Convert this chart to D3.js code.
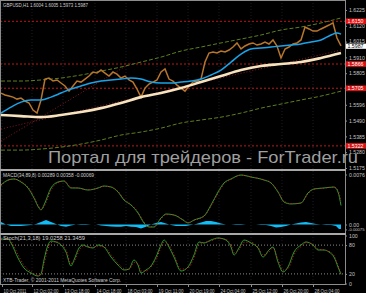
<!DOCTYPE html>
<html>
<head>
<meta charset="utf-8">
<script src="https://cdn.jsdelivr.net/npm/d3@7"></script>
<style>
  html, body { margin: 0; padding: 0; background: #000; }
  svg { display: block; }
  text { font-family: "Liberation Sans", Arial, sans-serif; }
</style>
</head>
<body>
<div id="chart"></div>
<script>
// ---- data ----
var header = "GBPUSD,H1  1.6004 1.6005 1.5973 1.5987";
var macdTitle = "MACD(34,89,8) 0.00289 0.00358 -0.00069";
var stochTitle = "Stoch(21,3,18) 19.0258 21.3459";
var copyright = "XTB-Trader, \u00a9 2001-2011 MetaQuotes Software Corp.";
var watermark = "Портал для трейдеров - ForTrader.ru";

// H1 bars, 0..340
var timeTickBars = [1, 31, 62, 94, 125, 156, 187, 218, 250, 281, 312];
var timeLabels = ["10 Oct 2011", "12 Oct 02:00", "13 Oct 18:00", "14 Oct 18:00", "18 Oct 03:00",
  "19 Oct 11:00", "20 Oct 19:00", "24 Oct 04:00", "25 Oct 12:00", "26 Oct 20:00", "28 Oct 04:00"];

var priceTicks = [1.6225, 1.6120, 1.6015, 1.5910, 1.5805, 1.5595, 1.5490, 1.5385, 1.5280, 1.5175];
var priceTickLabels = ["1.6225", "1.6120", "1.6015", "1.5910", "1.5805", "1.5596", "1.5490", "1.5385", "1.5280", "1.5175"];

// close, every 4 bars
var priceBars = d3.range(0, 341, 4);
var price = [1.5673,1.5660,1.5653,1.5646,1.5633,1.5640,1.5620,1.5607,1.5560,1.5540,
  1.5627,1.5766,1.5773,1.5753,1.5760,1.5740,1.5720,1.5686,1.5720,1.5753,
  1.5746,1.5766,1.5786,1.5813,1.5806,1.5826,1.5806,1.5786,1.5813,1.5799,
  1.5773,1.5786,1.5760,1.5746,1.5700,1.5646,1.5706,1.5733,1.5746,1.5760,
  1.5813,1.5833,1.5766,1.5753,1.5726,1.5706,1.5686,1.5720,1.5746,1.5753,
  1.5766,1.5879,1.5939,1.5946,1.5939,1.5952,1.5946,1.5959,1.5979,1.6006,
  1.5966,1.5986,1.5999,1.6006,1.5992,1.5999,1.6012,1.5999,1.6026,1.5986,
  1.5906,1.5966,1.5979,1.5999,1.6006,1.6026,1.6112,1.6099,1.6085,1.6085,
  1.6099,1.6112,1.6125,1.6139,1.6039,1.5987];
var lastPrice = 1.5987;

var fastBars = [0,10,20,30,40,50,60,70,80,90,100,110,120,130,140,150,160,170,180,190,200,210,220,230,240,250,260,270,280,290,300,310,320,330,336,340];
var fastMA = [1.5540,1.5580,1.5613,1.5627,1.5627,1.5646,1.5673,1.5700,1.5720,1.5740,1.5753,1.5760,1.5766,1.5773,1.5766,1.5746,1.5740,1.5740,
  1.5746,1.5753,1.5766,1.5793,1.5826,1.5879,1.5932,1.5966,1.5972,1.5979,1.5986,1.5992,1.5999,1.6012,1.6026,1.6059,1.6072,1.6065];

var slowBars = [0,20,40,60,80,100,120,140,160,180,200,220,240,260,280,300,320,340];
var slowMA = [1.5527,1.5520,1.5513,1.5527,1.5547,1.5573,1.5607,1.5646,1.5673,1.5706,1.5746,1.5786,1.5826,1.5853,1.5866,1.5879,1.5906,1.5939];
var envUpper = [1.5753,1.5753,1.5760,1.5773,1.5793,1.5819,1.5846,1.5879,1.5912,1.5952,1.5979,1.6006,1.6032,1.6059,1.6092,1.6112,1.6139,1.6172];
var envLower = [1.5294,1.5294,1.5301,1.5314,1.5334,1.5361,1.5394,1.5414,1.5440,1.5474,1.5494,1.5513,1.5540,1.5573,1.5600,1.5627,1.5653,1.5686];

var levels = [1.6150, 1.5866, 1.5705, 1.5322];
var trendA = [[0, 1.5434], [340, 1.5959]];
var trendB = [[0, 1.5354], [130, 1.5873]];

var macdBars = [0,7,13,20,27,33,38,40,43,50,57,63,70,77,87,97,103,110,117,123,130,137,143,148,153,160,165,173,182,187,193,203,210,217,223,230,240,250,263,270,277,283,290,300,307,313,323,333,337,340];
var macdMain = [.00600,.00676,.00692,.00646,.00555,.00403,.00251,.00220,.00296,.00555,.00646,.00661,.00555,.00555,.00524,.00555,.00585,.00570,.00494,.00372,
  .00296,.00175,.00023,-.00038,-.00038,.00099,.00160,.00144,.00068,.00023,.00068,.00129,.00296,.00494,.00631,.00692,.00752,.00722,.00676,.00631,
  .00494,.00342,.00312,.00327,.00479,.00540,.00555,.00570,.00494,.00289];
var macdSignal = [.00590,.00670,.00690,.00655,.00570,.00420,.00270,.00230,.00270,.00520,.00635,.00660,.00565,.00555,.00527,.00552,.00580,.00572,.00505,.00385,
  .00305,.00190,.00040,-.00030,-.00035,.00085,.00150,.00146,.00075,.00030,.00065,.00122,.00280,.00470,.00615,.00685,.00750,.00725,.00680,.00637,
  .00505,.00355,.00318,.00325,.00465,.00535,.00553,.00568,.00520,.00358];
var histBars = [0,5,10,15,20,25,30,35,40,45,50,55,60,65,70,75,80,85,90,95,100,105,110,115,120,125,130,135,140,145,150,155,160,165,170,175,180,185,
  190,195,200,205,210,215,220,225,230,235,240,245,250,255,260,265,270,275,280,285,290,295,300,305,310,315,320,325,330,335,338,340];
var macdHist = [.00038,0,-.00023,-.00023,-.00023,-.00015,-.00008,.00008,.00038,.00068,.00038,.00008,-.00023,-.00033,-.00015,0,-.00008,-.00008,0,0,
  -.00015,-.00023,-.0003,-.00033,-.00033,-.00023,-.00033,-.00038,-.00061,-.00033,0,.00023,.00038,.00015,-.00008,-.00023,-.00023,-.00023,
  -.00008,.00008,.0003,.00053,.00053,.00038,.00015,0,0,-.00008,-.00008,0,0,0,-.00008,-.00008,-.00023,-.00046,-.00038,-.00023,0,.00015,
  .0003,.00038,.00023,.00008,0,-.00008,-.00008,-.00023,-.00068,-.00069];
var macdTicks = [0.0076, 0, -0.00075];
var macdTickLabels = ["0.0076", "0.00", "-0.00075"];

var stochBars = [0,7,10,17,23,30,37,40,43,47,50,55,60,65,70,73,78,82,87,92,97,103,110,117,123,128,133,137,140,145,150,155,160,163,168,173,180,
  187,193,198,203,210,217,225,230,233,238,243,250,257,262,268,272,277,282,287,293,300,305,312,317,323,328,333,337,340];
var stochMain = [92.7,92.7,84.4,53.1,32.3,21.9,15.6,19.8,49.0,80.2,88.5,86.5,80.2,65.6,36.5,49.0,74.0,80.2,76.0,74.0,80.2,76.0,55.2,38.5,28.1,
  30.2,49.0,38.5,21.9,28.1,36.5,55.2,80.2,90.6,76.0,55.2,26.0,34.4,59.4,86.5,84.4,90.6,94.8,90.6,76.0,59.4,74.0,90.6,84.4,74.0,55.2,69.8,
  76.0,44.8,24.0,34.4,65.6,80.2,86.5,80.2,69.8,69.8,65.6,55.2,34.4,19.0];
var stochSignal = [92,93,88,60,38,25,17,17,40,72,85,87,82,70,42,45,68,78,77,75,78,77,60,42,31,29,44,41,26,26,34,50,75,86,80,60,30,32,54,80,
  85,89,94,92,80,64,70,86,86,76,59,66,74,50,28,31,60,77,85,82,72,70,67,58,38,21.3];
var stochTicks = [100, 80, 20, 0];

// ---- chart ----
var w = 366, h = 293, plotRight = 345;
var axisFont = 5.2;

var svg = d3.select("#chart").append("svg").attr("width", w).attr("height", h);
svg.append("rect").attr("width", w).attr("height", h).attr("fill", "#000");

var x = d3.scaleLinear().domain([0, 340]).range([1, 341]);
var yP = d3.scaleLinear().domain([1.5175, 1.6225]).range([168, 10]);
var yM = d3.scaleLinear().domain([0, 0.0076]).range([224.5, 174.5]);
var yS = d3.scaleLinear().domain([0, 100]).range([283.5, 235.5]);

var defs = svg.append("defs");
[["clipMain", 0, 169], ["clipMacd", 171, 62], ["clipStoch", 235, 49]].forEach(function(c) {
  defs.append("clipPath").attr("id", c[0]).append("rect")
    .attr("x", 0).attr("y", c[1]).attr("width", plotRight).attr("height", c[2]);
});

// faint vertical grid
svg.append("g").selectAll("line").data(timeTickBars).enter().append("line")
  .attr("x1", function(d) { return x(d); }).attr("x2", function(d) { return x(d); })
  .attr("y1", 0).attr("y2", 284)
  .attr("stroke", "#1a1a24").attr("stroke-dasharray", "1,2");

function pts(bars, vals) { return d3.zip(bars, vals); }
function lineFor(ys, curve) {
  return d3.line().x(function(d) { return x(d[0]); }).y(function(d) { return ys(d[1]); })
    .curve(curve || d3.curveLinear);
}

// main panel
var gMain = svg.append("g").attr("clip-path", "url(#clipMain)");

gMain.selectAll(".lvl").data(levels).enter().append("line")
  .attr("x1", 0).attr("x2", plotRight)
  .attr("y1", function(d) { return yP(d); }).attr("y2", function(d) { return yP(d); })
  .attr("stroke", "#c01818").attr("stroke-dasharray", "2,2");

[trendA, trendB].forEach(function(t) {
  gMain.append("path").attr("d", lineFor(yP)(t))
    .attr("fill", "none").attr("stroke", "#8a1626").attr("stroke-dasharray", "1,2");
});

[envUpper, envLower].forEach(function(v) {
  gMain.append("path").attr("d", lineFor(yP, d3.curveMonotoneX)(pts(slowBars, v)))
    .attr("fill", "none").attr("stroke", "#5d7f1e").attr("stroke-dasharray", "4,2");
});

gMain.append("path").attr("d", lineFor(yP)(pts(priceBars, price)))
  .attr("fill", "none").attr("stroke", "#b8762c").attr("stroke-width", 1.5);

gMain.append("path").attr("d", lineFor(yP, d3.curveMonotoneX)(pts(slowBars, slowMA)))
  .attr("fill", "none").attr("stroke", "#f7e3bd").attr("stroke-width", 2.6);

gMain.append("path").attr("d", lineFor(yP, d3.curveMonotoneX)(pts(fastBars, fastMA)))
  .attr("fill", "none").attr("stroke", "#1aa3e8").attr("stroke-width", 1.5);

// macd panel
var gMacd = svg.append("g").attr("clip-path", "url(#clipMacd)");
gMacd.append("path")
  .attr("d", d3.area().x(function(d) { return x(d[0]); }).y0(yM(0)).y1(function(d) { return yM(d[1]); })(pts(histBars, macdHist)))
  .attr("fill", "#12bdf5");
gMacd.append("path").attr("d", lineFor(yM, d3.curveMonotoneX)(pts(macdBars, macdMain)))
  .attr("fill", "none").attr("stroke", "#2c9c2c").attr("stroke-width", 1);
gMacd.append("path").attr("d", lineFor(yM, d3.curveMonotoneX)(pts(macdBars, macdSignal)))
  .attr("fill", "none").attr("stroke", "#d42020").attr("stroke-width", 1).attr("stroke-dasharray", "1,2");

// stoch panel
var gSt = svg.append("g").attr("clip-path", "url(#clipStoch)");
gSt.selectAll(".lv").data([80, 20]).enter().append("line")
  .attr("x1", 0).attr("x2", plotRight)
  .attr("y1", function(d) { return yS(d); }).attr("y2", function(d) { return yS(d); })
  .attr("stroke", "#8a8a8a").attr("stroke-dasharray", "1,2");
gSt.append("path").attr("d", lineFor(yS, d3.curveMonotoneX)(pts(stochBars, stochMain)))
  .attr("fill", "none").attr("stroke", "#2c9c2c").attr("stroke-width", 1);
gSt.append("path").attr("d", lineFor(yS, d3.curveMonotoneX)(pts(stochBars, stochSignal)))
  .attr("fill", "none").attr("stroke", "#d42020").attr("stroke-width", 1).attr("stroke-dasharray", "1,2");

// frames and separators
svg.append("rect").attr("x", 0.5).attr("y", 0.5).attr("width", plotRight).attr("height", 284)
  .attr("fill", "none").attr("stroke", "#8c8c8c");
svg.append("rect").attr("x", 0).attr("y", 169).attr("width", plotRight + 1).attr("height", 2).attr("fill", "#a8a8a8");
svg.append("rect").attr("x", 0).attr("y", 233).attr("width", plotRight + 1).attr("height", 2).attr("fill", "#a8a8a8");

// axes
function styleAxis(g) {
  g.select(".domain").remove();
  g.selectAll("line").attr("stroke", "#8c8c8c");
  g.selectAll("text").attr("fill", "#c4c4c4").attr("font-size", axisFont)
    .attr("font-family", "Liberation Sans, Arial, sans-serif");
}

var pAxis = svg.append("g").attr("transform", "translate(" + plotRight + ",0)")
  .call(d3.axisRight(yP).tickValues(priceTicks).tickFormat(function(d, i) { return priceTickLabels[i]; }).tickSize(2).tickPadding(2))
  .call(styleAxis);
// 1.6015 sits just above the current-price tag, lift it a touch
pAxis.selectAll("text").filter(function(d) { return d === 1.6015; }).attr("dy", "0.1em");

svg.append("g").attr("transform", "translate(" + plotRight + ",0)")
  .call(d3.axisRight(yM).tickValues(macdTicks).tickFormat(function(d, i) { return macdTickLabels[i]; }).tickSize(2).tickPadding(2))
  .call(styleAxis)
  .selectAll("text").filter(function(d) { return d < 0; })
  .attr("font-size", 4.2).attr("x", 3);

svg.append("g").attr("transform", "translate(" + plotRight + ",0)")
  .call(d3.axisRight(yS).tickValues(stochTicks).tickFormat(d3.format("d")).tickSize(2).tickPadding(2))
  .call(styleAxis);

var xAxis = svg.append("g").attr("transform", "translate(0,284)")
  .call(d3.axisBottom(x).tickValues(timeTickBars).tickFormat(function(d, i) { return timeLabels[i]; }).tickSize(3).tickPadding(1))
  .call(styleAxis);
xAxis.selectAll("text").attr("text-anchor", "start").attr("x", 1).attr("dy", "0.9em")
  .attr("textLength", function(d, i) { return i === 0 ? 23 : 25; })
  .attr("lengthAdjust", "spacingAndGlyphs");

// level labels on the price axis
var lvlTags = svg.append("g").selectAll("g").data(levels).enter().append("g");
lvlTags.append("rect").attr("x", 346).attr("y", function(d) { return yP(d) - 2.8; })
  .attr("width", 20).attr("height", 5.6).attr("fill", "#e01010");
lvlTags.append("text").attr("x", 347.5).attr("y", function(d) { return yP(d); }).attr("dy", "0.35em")
  .attr("font-size", axisFont).attr("fill", "#ffffff")
  .attr("textLength", 16).attr("lengthAdjust", "spacingAndGlyphs")
  .text(function(d) { return d3.format(".4f")(d); });

svg.append("rect").attr("x", 346).attr("y", yP(lastPrice) - 2.2).attr("width", 20).attr("height", 5.2).attr("fill", "#ffffff");
svg.append("text").attr("x", 347.5).attr("y", yP(lastPrice) + 0.5).attr("dy", "0.35em")
  .attr("font-size", 4.8).attr("fill", "#000")
  .attr("textLength", 16).attr("lengthAdjust", "spacingAndGlyphs")
  .text(d3.format(".4f")(lastPrice));

// panel titles
function smallText(tx, ty, len, s) {
  svg.append("text").attr("x", tx).attr("y", ty).attr("font-size", 5.4).attr("fill", "#cfcfcf")
    .attr("textLength", len).attr("lengthAdjust", "spacingAndGlyphs").text(s);
}
smallText(3, 7, 85, header);
smallText(3, 177, 91, macdTitle);
smallText(3, 240, 82, stochTitle);
smallText(3, 281.5, 118, copyright);

// watermark
svg.append("text").attr("x", 48).attr("y", 163).attr("font-size", 17).attr("fill", "#9f9f9f")
  .attr("textLength", 310).attr("lengthAdjust", "spacingAndGlyphs").text(watermark);
</script>
</body>
</html>
